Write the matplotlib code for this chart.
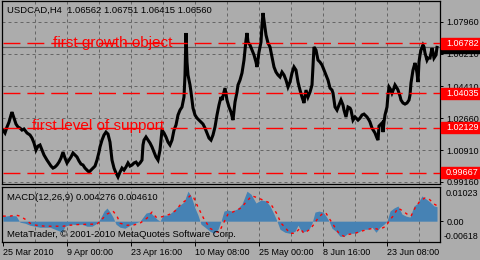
import matplotlib
matplotlib.use("Agg")
import matplotlib.pyplot as plt
from matplotlib.patches import Rectangle
from matplotlib.transforms import blended_transform_factory

plt.rcParams['font.family'] = ['Liberation Sans', 'DejaVu Sans']

BG = '#acacac'
GRID = '#666666'

# H4 price path (bar index, close)
bar_idx = [0, 2, 4, 6, 8, 9, 11, 13, 15, 17, 19, 21, 24, 27, 29, 31, 33, 35, 37, 39,
           41, 44, 46, 48, 50, 52, 54, 56, 58, 60, 62, 64, 66, 68, 70, 72, 74, 76, 78, 80,
           82, 84, 86, 88, 90, 92, 94, 96, 97, 99, 101, 103, 105, 107, 109, 111, 113, 115, 117, 119,
           121, 123, 125, 127, 129, 131, 133, 135, 137, 139, 140, 141, 143, 145, 147, 149, 151, 153, 155, 157,
           158, 159, 161, 163, 165, 167, 169, 171, 173, 175, 177, 179, 181, 182, 183, 184, 185, 186, 187, 188,
           190, 192, 194, 196, 198, 200, 202, 204, 206, 208, 210, 212, 214, 216, 218, 219, 221, 222, 224, 226,
           228, 230, 232, 234, 235, 237, 239, 241, 242, 243, 244, 245, 247, 249, 251, 253, 254, 256, 258, 259,
           260, 261, 263, 265, 267, 269, 271, 273, 275, 277, 279, 281, 283, 285, 287, 289, 291, 293, 295, 297,
           299, 301, 303, 305, 307, 309, 310, 311, 313, 315, 317, 319, 321, 323, 325, 327, 329, 330, 332, 334,
           336, 338, 340, 341, 343, 345, 347, 348, 350, 352, 355, 357, 359, 361, 364, 366, 367, 369, 372, 374,
           375, 376, 378, 379, 380, 381, 382, 384, 385, 386, 388, 389, 391, 392, 394, 395, 397, 398, 400, 402,
           404, 406, 407, 408, 410, 412, 413, 414, 415, 416, 417, 418, 420, 421, 422, 424, 425, 427, 429, 430,
           431, 433, 434]
close = [1.0201, 1.0185, 1.0218, 1.0245, 1.0284, 1.0300, 1.0267, 1.0234, 1.0218, 1.0212, 1.0201, 1.0207, 1.0185, 1.0174, 1.0157, 1.0130, 1.0091, 1.0113, 1.0119, 1.0091,
         1.0064, 1.0036, 1.0020, 1.0003, 0.9992, 0.9998, 1.0009, 1.0025, 1.0047, 1.0080, 1.0047, 1.0020, 1.0036, 1.0053, 1.0075, 1.0064, 1.0053, 1.0031, 1.0014, 1.0009,
         0.9992, 0.9981, 0.9970, 0.9981, 0.9992, 1.0003, 1.0036, 1.0080, 1.0108, 1.0146, 1.0174, 1.0190, 1.0179, 1.0135, 1.0036, 0.9992, 0.9965, 0.9943, 0.9970, 0.9992,
         0.9981, 0.9998, 1.0020, 1.0003, 1.0009, 1.0020, 1.0025, 1.0009, 1.0020, 1.0036, 1.0119, 1.0146, 1.0163, 1.0146, 1.0130, 1.0108, 1.0080, 1.0053, 1.0036, 1.0091,
         1.0146, 1.0201, 1.0185, 1.0163, 1.0135, 1.0119, 1.0146, 1.0201, 1.0229, 1.0284, 1.0311, 1.0328, 1.0383, 1.0504, 1.0735, 1.0575, 1.0504, 1.0476, 1.0449, 1.0410,
         1.0322, 1.0284, 1.0267, 1.0256, 1.0245, 1.0234, 1.0212, 1.0185, 1.0157, 1.0146, 1.0174, 1.0218, 1.0284, 1.0339, 1.0383, 1.0366, 1.0410, 1.0432, 1.0366, 1.0328,
         1.0300, 1.0256, 1.0355, 1.0410, 1.0449, 1.0476, 1.0515, 1.0586, 1.0641, 1.0696, 1.0735, 1.0685, 1.0669, 1.0641, 1.0614, 1.0575, 1.0548, 1.0630, 1.0685, 1.0779,
         1.0845, 1.0806, 1.0724, 1.0680, 1.0658, 1.0603, 1.0548, 1.0520, 1.0504, 1.0493, 1.0520, 1.0504, 1.0476, 1.0438, 1.0465, 1.0515, 1.0548, 1.0531, 1.0465, 1.0421,
         1.0383, 1.0350, 1.0421, 1.0383, 1.0410, 1.0449, 1.0559, 1.0658, 1.0641, 1.0586, 1.0575, 1.0559, 1.0531, 1.0504, 1.0476, 1.0432, 1.0421, 1.0405, 1.0328, 1.0311,
         1.0339, 1.0366, 1.0339, 1.0311, 1.0273, 1.0328, 1.0322, 1.0311, 1.0256, 1.0273, 1.0256, 1.0267, 1.0284, 1.0289, 1.0273, 1.0256, 1.0245, 1.0212, 1.0185, 1.0157,
         1.0146, 1.0223, 1.0234, 1.0240, 1.0190, 1.0245, 1.0284, 1.0328, 1.0394, 1.0438, 1.0421, 1.0405, 1.0432, 1.0449, 1.0432, 1.0421, 1.0388, 1.0366, 1.0350, 1.0344,
         1.0350, 1.0366, 1.0394, 1.0460, 1.0531, 1.0570, 1.0548, 1.0515, 1.0465, 1.0575, 1.0614, 1.0641, 1.0669, 1.0658, 1.0625, 1.0586, 1.0597, 1.0597, 1.0652, 1.0630,
         1.0597, 1.0614, 1.0656]

# MACD histogram
hist_idx = [0, 7, 13, 15, 17, 22, 27, 32, 37, 42, 47, 52, 57, 59, 62, 65, 69, 74, 79, 84,
            89, 94, 97, 101, 104, 107, 110, 113, 117, 122, 127, 132, 137, 140, 143, 147, 151, 154, 157, 160,
            165, 169, 173, 177, 181, 185, 188, 192, 195, 198, 202, 207, 211, 215, 218, 221, 225, 229, 234, 239,
            244, 248, 253, 258, 263, 267, 271, 274, 277, 282, 287, 292, 295, 299, 302, 306, 309, 312, 316, 320,
            323, 326, 329, 333, 337, 341, 345, 350, 355, 360, 365, 369, 373, 377, 381, 384, 387, 391, 395, 399,
            403, 407, 411, 415, 419, 423, 427, 431, 434]
macd = [0.0014, 0.0017, 0.0016, 0.0006, -0.0003, -0.0006, -0.0012, -0.0015, -0.0018, -0.0018, -0.0018, -0.0024, -0.0030, -0.0033, -0.0015, -0.0012, -0.0009, -0.0010, -0.0009, -0.0015,
        -0.0015, -0.0006, 0.0006, 0.0030, 0.0039, 0.0027, 0.0012, -0.0009, -0.0018, -0.0021, -0.0012, -0.0006, 0.0000, 0.0012, 0.0024, 0.0027, 0.0015, 0.0006, 0.0000, 0.0018,
        0.0018, 0.0027, 0.0039, 0.0048, 0.0057, 0.0089, 0.0075, 0.0039, 0.0018, -0.0009, -0.0018, -0.0030, -0.0036, -0.0024, 0.0000, 0.0030, 0.0033, 0.0030, 0.0036, 0.0051,
        0.0089, 0.0080, 0.0054, 0.0063, 0.0060, 0.0045, 0.0021, 0.0000, -0.0024, -0.0033, -0.0036, -0.0030, -0.0012, -0.0033, -0.0030, -0.0024, -0.0006, 0.0027, 0.0030, 0.0027,
        0.0015, 0.0000, -0.0021, -0.0030, -0.0045, -0.0045, -0.0036, -0.0036, -0.0033, -0.0024, -0.0024, -0.0018, -0.0033, -0.0018, -0.0009, 0.0000, 0.0030, 0.0039, 0.0045, 0.0021,
        0.0015, 0.0012, 0.0045, 0.0054, 0.0075, 0.0066, 0.0057, 0.0045, 0.0043]

# MACD signal line
sig_idx = [0, 7, 13, 17, 22, 27, 33, 42, 52, 60, 67, 75, 87, 94, 97, 104, 110, 114, 117, 124,
           130, 137, 144, 149, 153, 157, 162, 167, 172, 178, 182, 187, 190, 193, 197, 201, 207, 212, 216, 220,
           225, 232, 238, 244, 249, 255, 262, 267, 271, 274, 278, 281, 287, 292, 297, 301, 307, 311, 315, 320,
           323, 326, 330, 333, 336, 341, 346, 352, 358, 365, 371, 375, 379, 383, 386, 390, 395, 400, 404, 408,
           412, 417, 422, 426, 431, 434]
signal = [0.0015, 0.0015, 0.0018, 0.0015, 0.0006, -0.0006, -0.0012, -0.0015, -0.0015, -0.0015, -0.0012, -0.0010, -0.0009, -0.0009, 0.0000, 0.0021, 0.0030, 0.0015, -0.0006, -0.0012,
          -0.0012, -0.0006, 0.0009, 0.0027, 0.0012, 0.0012, 0.0015, 0.0021, 0.0030, 0.0051, 0.0060, 0.0075, 0.0075, 0.0054, 0.0030, 0.0006, -0.0021, -0.0030, -0.0033, -0.0009,
          0.0021, 0.0030, 0.0039, 0.0060, 0.0075, 0.0069, 0.0060, 0.0054, 0.0036, 0.0021, -0.0006, -0.0015, -0.0036, -0.0036, -0.0021, -0.0036, -0.0024, -0.0009, 0.0009, 0.0024,
          0.0024, 0.0009, -0.0009, -0.0024, -0.0036, -0.0045, -0.0039, -0.0036, -0.0030, -0.0024, -0.0021, -0.0024, -0.0021, -0.0015, 0.0000, 0.0015, 0.0039, 0.0030, 0.0021, 0.0015,
          0.0039, 0.0060, 0.0069, 0.0066, 0.0051, 0.0046]

grid_prices = [1.07960, 1.06210, 1.04410, 1.02660, 1.00910, 0.99160]
level_prices = [1.06782, 1.04035, 1.02129, 0.99667]
last_price = 1.06560
ohlc = ['1.06562', '1.06751', '1.06415', '1.06560']
date_pos = [0, 64, 128, 192, 256, 320, 384]
date_labels = ['25 Mar 2010', '9 Apr 00:00', '23 Apr 16:00', '10 May 08:00',
               '25 May 00:00', '8 Jun 16:00', '23 Jun 08:00']
macd_max, macd_min = 0.01023, -0.00618

fig = plt.figure(figsize=(4.8, 2.6), dpi=100, facecolor=BG)
ax = fig.add_axes([2/480, 76.5/260, 438/480, 182.5/260], facecolor=BG)
ax2 = fig.add_axes([2/480, 18/260, 438/480, 55.3/260], facecolor=BG)

ax.set_xlim(-1, 437)
ax.set_ylim(0.99072, 1.0911)
ax2.set_xlim(-1, 437)
ax2.set_ylim(macd_min, macd_max)

for a in (ax, ax2):
    for k in range(1, 14):
        a.axvline(32 * k, color=GRID, lw=0.72, dashes=(3, 3), zorder=0.5)
    for s in a.spines.values():
        s.set_color('black')
        s.set_linewidth(0.9)
for p in grid_prices:
    ax.axhline(p, color=GRID, lw=0.72, dashes=(3, 3), zorder=0.5)

# price
ax.axhline(last_price, color='#5e5e5e', lw=0.9, zorder=1)
ax.plot(bar_idx, close, color='black', lw=2.2, zorder=2, solid_joinstyle='miter')
for p in level_prices:
    ax.plot([0, 437], [p, p], color='red', lw=1.0, dashes=(12.2, 5.0), zorder=3)
ax.text(50, 1.0660, 'first growth object', color='red', fontsize=11, va='baseline', zorder=4)
ax.text(29, 1.0199, 'first level of support', color='red', fontsize=11, va='baseline', zorder=4)

ax.yaxis.tick_right()
ax.set_yticks(grid_prices, labels=['%.5f' % p for p in grid_prices])
ax.tick_params(axis='y', direction='out', length=2.5, width=0.7, pad=2, labelsize=6.5)
ax.tick_params(axis='x', length=0, labelbottom=False)

trans = blended_transform_factory(fig.transFigure, ax.transData)
ax.add_patch(Rectangle((441/480, last_price - 0.0030), 39/480, 0.0061, transform=trans,
                       color='black', clip_on=False, zorder=5))
ax.text(446/480, last_price, '%.5f' % last_price, transform=trans, color='#d0d0d0',
        fontsize=6.5, va='center', ha='left', clip_on=False, zorder=5.5)
for p in level_prices:
    ax.add_patch(Rectangle((441/480, p - 0.0030), 39/480, 0.0061, transform=trans,
                           color='red', clip_on=False, zorder=6))
    ax.text(446/480, p, '%.5f' % p, transform=trans, color='white',
            fontsize=6.5, va='center', ha='left', clip_on=False, zorder=7)

# MACD
ax2.fill_between(hist_idx, 0, macd, color='#4682b4', lw=0, zorder=1)
ax2.plot(sig_idx, signal, color='red', lw=1.0, dashes=(2, 3), zorder=2)
ax2.yaxis.tick_right()
ax2.set_yticks([0.0], labels=['0.00'])
ax2.tick_params(axis='y', direction='out', length=2.5, width=0.7, pad=2, labelsize=6.5)
ax2.annotate('%.5f' % macd_max, xy=(1, macd_max), xycoords=('axes fraction', 'data'),
             xytext=(4.3, -4.6), textcoords='offset points', va='center', ha='left',
             fontsize=6.5, annotation_clip=False)
ax2.annotate('%.5f' % macd_min, xy=(1, macd_min), xycoords=('axes fraction', 'data'),
             xytext=(2.4, 4.0), textcoords='offset points', va='center', ha='left',
             fontsize=6.3, annotation_clip=False)
ax2.set_xticks(date_pos, labels=date_labels)
for lbl in ax2.get_xticklabels():
    lbl.set_ha('left')
ax2.tick_params(axis='x', direction='out', length=3, width=0.7, pad=1, labelsize=6.5)

fig.text(7/480, 1 - 10/260, 'USDCAD,H4  ' + ' '.join(ohlc), fontsize=6.8, va='center', ha='left')
fig.text(7/480, 1 - 197/260, 'MACD(12,26,9) 0.004276 0.004610', fontsize=6.8, va='center', ha='left')
fig.text(7/480, 1 - 234.7/260, 'MetaTrader, \u00a9 2001-2010 MetaQuotes Software Corp.',
         fontsize=6.8, va='center', ha='left')

fig.savefig('out.png', dpi=100, facecolor=BG)
